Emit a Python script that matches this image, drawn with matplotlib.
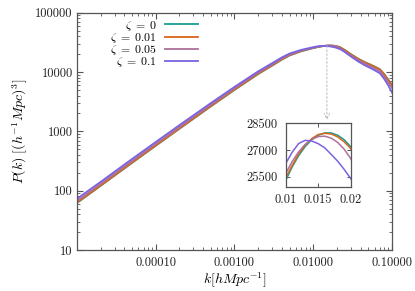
import matplotlib
matplotlib.use("Agg")
import matplotlib.pyplot as plt
from matplotlib.ticker import FixedLocator, FixedFormatter, LogLocator, NullFormatter

plt.rcParams['font.family'] = 'serif'
plt.rcParams['font.serif'] = ['cmr10', 'DejaVu Serif']
plt.rcParams['mathtext.fontset'] = 'cm'
plt.rcParams['axes.unicode_minus'] = False
plt.rcParams['axes.formatter.use_mathtext'] = True

# ---------------- data ----------------
k = [1.0e-5, 2.0e-5, 5.0e-5, 1.0e-4, 2.0e-4, 5.0e-4, 1.0e-3, 2.0e-3, 3.0e-3,
     4.0e-3, 5.0e-3, 7.0e-3, 0.010, 0.011, 0.012, 0.013, 0.014, 0.015, 0.016,
     0.017, 0.018, 0.019, 0.020, 0.022, 0.025, 0.030, 0.037, 0.045, 0.052,
     0.060, 0.070, 0.080, 0.090, 0.100]

P_zeta_0 = [62, 121, 294, 571, 1107, 2630, 4990, 9250, 12790,
            16200, 19000, 22300, 25300, 26060, 26690, 27200, 27580, 27830, 27960,
            27960, 27830, 27580, 27190, 26100, 23600, 20000, 16800, 14700, 13500,
            12400, 11150, 9150, 7360, 6050]

P_zeta_001 = [63, 122, 297, 577, 1118, 2655, 5037, 9335, 12905,
              16345, 19170, 22490, 25450, 26150, 26780, 27280, 27640, 27870, 27940,
              27900, 27740, 27460, 27090, 25980, 23480, 19880, 16700, 14600, 13420,
              12320, 11080, 9090, 7310, 6000]

P_zeta_005 = [67, 131, 317, 614, 1187, 2806, 5299, 9759, 13430,
              16930, 19760, 22920, 25690, 26360, 26900, 27320, 27600, 27755, 27780,
              27670, 27430, 27050, 26530, 25090, 22490, 19000, 15880, 13820, 12620,
              11530, 10260, 8330, 6620, 5385]

P_zeta_01 = [73, 141, 342, 661, 1273, 2990, 5614, 10270, 14070,
             17660, 20480, 23590, 26250, 26880, 27370, 27545, 27510, 27360, 27130,
             26760, 26380, 25920, 25410, 24300, 21830, 18300, 15120, 13010, 11810,
             10730, 9530, 7590, 5890, 4500]

labels = [r'$\zeta \;=\; 0$', r'$\zeta \;=\; 0.01$', r'$\zeta \;=\; 0.05$', r'$\zeta \;=\; 0.1$']
series = [P_zeta_0, P_zeta_001, P_zeta_005, P_zeta_01]
colors = ['#179c8e', '#d8661e', '#ad7199', '#7a62e0']

x_ticks = [1e-4, 1e-3, 1e-2, 1e-1]
x_ticklabels = ['0.00010', '0.00100', '0.01000', '0.10000']
y_ticks = [10, 100, 1000, 10000, 100000]
y_ticklabels = ['10', '100', '1000', '10000', '100000']

inset_xticks = [0.01, 0.015, 0.02]
inset_xticklabels = ['0.01', '0.015', '0.02']
inset_yticks = [25500, 27000, 28500]
inset_yticklabels = ['25500', '27000', '28500']

# ---------------- figure ----------------
fig = plt.figure(figsize=(4.15, 2.91), dpi=100)
ax = fig.add_axes([0.1855, 0.1409, 0.7591, 0.8155])
spine_col = '#555555'
fs = 9

for P, lab, c in zip(series, labels, colors):
    ax.plot(k, P, color=c, lw=1.3, label=lab)

ax.set_xscale('log')
ax.set_yscale('log')
ax.set_xlim(1.0e-5, 0.1)
ax.set_ylim(10, 100000)
ax.xaxis.set_major_locator(FixedLocator(x_ticks))
ax.xaxis.set_major_formatter(FixedFormatter(x_ticklabels))
ax.yaxis.set_major_locator(FixedLocator(y_ticks))
ax.yaxis.set_major_formatter(FixedFormatter(y_ticklabels))
ax.xaxis.set_minor_locator(LogLocator(base=10, subs=range(2, 10), numticks=20))
ax.yaxis.set_minor_locator(LogLocator(base=10, subs=range(2, 10), numticks=20))
ax.xaxis.set_minor_formatter(NullFormatter())
ax.yaxis.set_minor_formatter(NullFormatter())
ax.tick_params(which='both', direction='in', top=True, right=True,
               color=spine_col, labelsize=fs, labelcolor='#222222')
ax.tick_params(which='major', length=4, width=0.8)
ax.tick_params(axis='x', which='major', pad=5)
ax.tick_params(axis='y', which='major', pad=3)
ax.tick_params(which='minor', length=2.2, width=0.6)
for s in ax.spines.values():
    s.set_color(spine_col)
    s.set_linewidth(0.9)

ax.set_xlabel(r'$k[hMpc^{-1}]$', fontsize=10, labelpad=1)
ax.set_ylabel(r'$P(k)\ [(h^{-1}Mpc)^3]$', fontsize=10, labelpad=4)

leg = ax.legend(loc='upper right', bbox_to_anchor=(0.398, 0.995), frameon=False,
                markerfirst=False, fontsize=8.5, handlelength=2.8,
                labelspacing=-0.155, borderaxespad=0.0, handletextpad=0.7)

# arrow from peak to inset
ax.annotate('', xy=(0.0149, 1550), xytext=(0.0149, 27500),
            arrowprops=dict(arrowstyle='->', color='#bbbbbb', lw=0.7,
                            linestyle=(0, (2, 2)), shrinkA=0, shrinkB=0))

# ---------------- inset ----------------
axin = fig.add_axes([0.6884, 0.3584, 0.1566, 0.2179])
for P, c in zip(series, colors):
    axin.plot(k, P, color=c, lw=1.1)
axin.set_xlim(0.01, 0.02)
axin.set_ylim(24950, 28500)
axin.xaxis.set_major_locator(FixedLocator(inset_xticks))
axin.xaxis.set_major_formatter(FixedFormatter(inset_xticklabels))
axin.yaxis.set_major_locator(FixedLocator(inset_yticks))
axin.yaxis.set_major_formatter(FixedFormatter(inset_yticklabels))
axin.tick_params(which='both', direction='in', top=True, right=True,
                 color=spine_col, labelsize=fs, labelcolor='#222222',
                 length=3, width=0.7)
axin.tick_params(axis='y', pad=6)
axin.tick_params(axis='x', pad=5)
for s in axin.spines.values():
    s.set_color(spine_col)
    s.set_linewidth(0.9)

fig.savefig('out.png', dpi=100)
